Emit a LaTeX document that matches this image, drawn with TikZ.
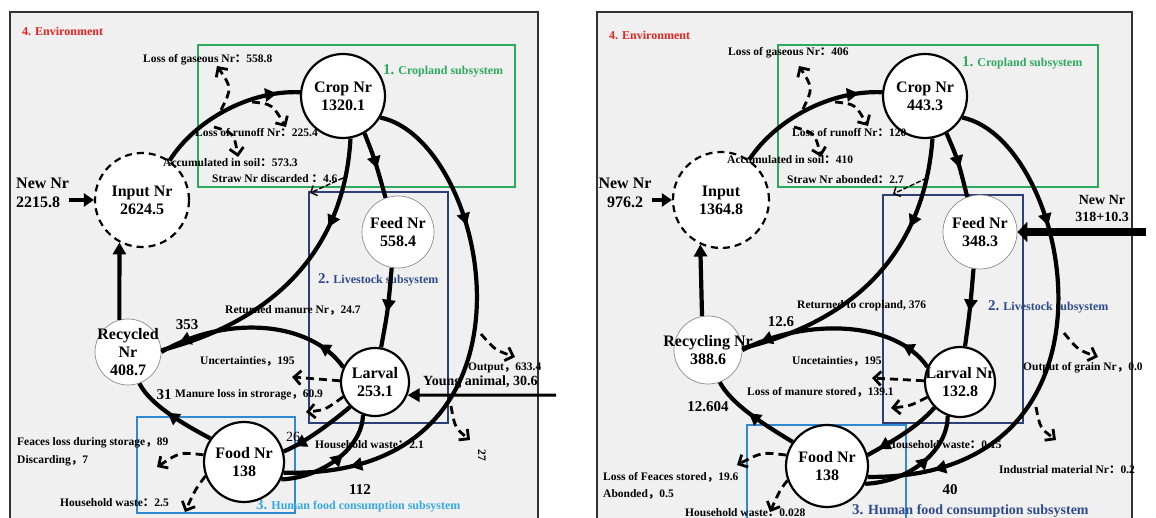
\documentclass[tikz,border=0pt]{standalone}
\usepackage{fontspec}
\setmainfont{Liberation Serif}
\newfontfamily\cjk{Noto Sans CJK SC}
\usetikzlibrary{arrows.meta,decorations.markings}

\definecolor{panelgray}{HTML}{F0F0F0}
\definecolor{envred}{HTML}{E8231E}
\definecolor{cropgreen}{HTML}{2DAA5C}
\definecolor{stocknavy}{HTML}{2B3F78}
\definecolor{stocktext}{HTML}{2E4A8E}
\definecolor{foodblue}{HTML}{2E8BD2}
\definecolor{foodtext}{HTML}{35A8E8}

% 全角の句読点
\newcommand{\fc}{{\cjk ：}}
\newcommand{\fm}{{\cjk ，}}
\newcommand{\zw}[1]{\makebox[0pt]{#1}}
\newcommand{\bignum}[1]{{\fontsize{15}{15}\selectfont #1}}

\begin{document}
\begin{tikzpicture}[x=1pt, y=-1pt,
    pool/.style={circle, draw, line width=2.2pt, fill=white, inner sep=0pt, align=center,
        font=\fontsize{16}{18}\selectfont\bfseries},
    thinpool/.style={pool, draw=black!45, line width=0.7pt},
    inpool/.style={pool, dash pattern=on 7pt off 5pt},
    newnr/.style={inner sep=0pt, align=center, font=\fontsize{16}{19}\selectfont\bfseries},
    flow/.style={line width=4.2pt},
    midtip/.style={postaction={decorate, decoration={markings,
        mark=at position #1 with {\arrow{Triangle[length=12pt,width=13pt]}}}}},
    loss/.style={line width=2.8pt, dash pattern=on 8pt off 5pt, -{Straight Barb[length=7pt,width=14pt]}},
    straw/.style={line width=1.4pt, dash pattern=on 5pt off 2pt, -{Straight Barb[length=5pt,width=11pt]}},
    lab/.style={anchor=west, inner sep=0pt, font=\fontsize{11.5}{13}\selectfont\bfseries},
    num/.style={inner sep=0pt, font=\fontsize{15}{16}\selectfont\bfseries},
    sub/.style={anchor=west, inner sep=0pt, font=\fontsize{12}{13}\selectfont\bfseries},
    boxline/.style={line width=1.8pt},
    panel/.style={fill=panelgray, draw=black!80, line width=2pt}
]
\useasboundingbox[fill=white] (0,0) rectangle (1156,518);

% ===================== 左側のパネル =====================
% --- 枠とサブシステム ---
\draw[panel] (10,12) rectangle (538,540);
\node[sub, text=envred] (envA) at (22,31) {4. Environment};
\draw[boxline, cropgreen] (198,45) rectangle (515,187);
\node[sub, text=cropgreen] (cropsubA) at (383,71) {\bignum{1.} Cropland subsystem};
\draw[boxline, stocknavy] (309,192) rectangle (448,423);
\node[sub, text=stocktext] (stocksubA) at (318,280) {\bignum{2.} Livestock subsystem};
\draw[boxline, foodblue] (137,417) rectangle (295,513);
\node[sub, text=foodtext] (foodsubA) at (256,506) {\bignum{3.} Human food consumption subsystem};

% --- プール ---
\node[inpool, minimum size=94pt] (inputA) at (142,200) {Input Nr\\2624.5};
\node[pool, minimum size=84pt] (cropA) at (343,96) {Crop Nr\\1320.1};
\node[thinpool, minimum size=72pt] (feedA) at (398,232) {Feed Nr\\558.4};
\node[pool, minimum size=68pt] (larvalA) at (375,382) {Larval\\253.1};
\node[thinpool, minimum size=66pt] (recycA) at (128,352) {\zw{Recycled}\\\zw{Nr}\\\zw{408.7}};
\node[pool, minimum size=80pt] (foodA) at (244,462) {Food Nr\\138};
\node[newnr, align=left, anchor=west] (newA) at (16,193) {New Nr\\2215.8};

% --- 流れ ---
\draw[flow, -{Triangle[length=10pt,width=13pt]}] (newA.east |- inputA.west) -- (inputA.west);
\draw[flow, midtip=0.85] (inputA.55) .. controls (195,120) and (250,90) .. (cropA.175);
\draw[flow, midtip=0.3] (cropA.280) .. controls (345,240) and (285,318) .. (recycA.3);
\draw[flow, midtip=0.55] (cropA.300) .. controls (375,160) .. (feedA.110);
\draw[flow, midtip=0.55] (feedA.260) .. controls (388,310) .. (larvalA.80);
\draw[flow, midtip=0.28, midtip=0.87] (cropA.330) .. controls (490,140) and (560,480) .. (foodA.345);
\draw[flow, midtip=0.17, midtip=0.9] (larvalA.155) .. controls (310,320) and (225,315) .. (recycA.0);
\draw[flow, midtip=0.85] (larvalA.225) .. controls (325,428) and (300,445) .. (foodA.15);
\draw[flow, midtip=0.6] (foodA.335) .. controls (320,478) and (362,450) .. (larvalA.250);
\draw[flow, midtip=0.55] (foodA.145) .. controls (185,425) and (150,405) .. (recycA.290);
\draw[flow, -{Triangle[length=12pt,width=13pt]}] (recycA.105) -- (inputA.242);
\coordinate (youngA) at (556,395);
\draw[flow, line width=3pt, -{Triangle[length=12pt,width=13pt]}] (youngA) -- (larvalA.338);

% --- 損失 (破線) ---
\coordinate (gasA) at (221,110);
\coordinate (gasAend) at (217,66);
\draw[loss] (gasA) .. controls (232,88) .. (gasAend);
\coordinate (runA) at (252,102);
\coordinate (runAend) at (286,127);
\draw[loss] (runA) .. controls (272,104) .. (runAend);
\coordinate (soilA) at (214,127);
\coordinate (soilAend) at (238,157);
\draw[loss] (soilA) .. controls (234,133) .. (soilAend);
\coordinate (strawA) at (343,178);
\coordinate (strawAend) at (310,193);
\draw[straw] (strawA) -- (strawAend);
\coordinate (outA) at (481,334);
\coordinate (outAend) at (515,357);
\draw[loss] (outA) .. controls (495,350) .. (outAend);
\coordinate (indA) at (451,406);
\coordinate (indAend) at (470,440);
\draw[loss] (indA) .. controls (455,428) .. (indAend);
\coordinate (uncA) at (292,377);
\draw[loss] (larvalA.178) -- (uncA);
\coordinate (storA) at (306,412);
\draw[loss] (larvalA.205) .. controls (325,410) .. (storA);
\coordinate (fecA) at (157,467);
\draw[loss] (foodA.170) .. controls (180,452) .. (fecA);
\coordinate (wasteA) at (185,512);
\draw[loss] (foodA.200) .. controls (195,490) .. (wasteA);

% --- ラベル ---
\node[lab] (gasAl) at (143,60) {Loss of gaseous Nr\fc 558.8};
\node[lab] (runAl) at (195,133) {Loss of runoff Nr\fc 225.4};
\node[lab] (soilAl) at (163,163) {Accumulated in soil\fc 573.3};
\node[lab] (strawAl) at (212,179) {Straw Nr discarded \fc 4.6};
\node[lab] (retAl) at (225,310) {Returned manure Nr\fm 24.7};
\node[lab] (uncAl) at (200,361) {Uncertainties\fm 195};
\node[lab] (storAl) at (175,395) {Manure loss in strorage\fm 60.9};
\node[lab] (hwLAl) at (315,445) {Household waste\fc 2.1};
\node[lab] (outAl) at (468,368) {Output\fm 633.4};
\node[lab, font=\fontsize{14}{15}\selectfont\bfseries] (youngAl) at (423,382) {Young animal, 30.6};
\node[lab] (fecAl) at (17,443) {Feaces loss during storage\fm 89};
\node[lab] (discAl) at (17,461) {Discarding\fm 7};
\node[lab] (wasteAl) at (60,503) {Household waste\fc 2.5};
\node[num] (n353) at (187,325) {353};
\node[num] (n31) at (164,395) {31};
\node[num, font=\fontsize{14}{15}\selectfont] (n26) at (293,437) {26};
\node[num] (n112) at (360,490) {112};
\node[lab, anchor=center, rotate=-90] (n27) at (482,455) {27};

% ===================== 右側のパネル =====================
% --- 枠とサブシステム ---
\draw[panel] (597,12) rectangle (1132,540);
\node[sub, text=envred] (envB) at (609,35) {4. Environment};
\draw[boxline, cropgreen] (778,45) rectangle (1098,187);
\node[sub, text=cropgreen] (cropsubB) at (962,63) {\bignum{1.} Cropland subsystem};
\draw[boxline, stocknavy] (883,195) rectangle (1023,423);
\node[sub, text=stocktext] (stocksubB) at (988,307) {\bignum{2.} Livestock subsystem};
\draw[boxline, foodblue] (747,425) rectangle (906,540);
\node[sub, text=stocktext, font=\fontsize{14}{15}\selectfont\bfseries] (foodsubB) at (852,511) {\bignum{3.} Human food consumption subsystem};

% --- プール ---
\node[inpool, minimum size=96pt] (inputB) at (721,200) {Input\\1364.8};
\node[pool, minimum size=84pt] (cropB) at (925,96) {Crop Nr\\443.3};
\node[thinpool, minimum size=74pt] (feedB) at (980,232) {Feed Nr\\348.3};
\node[pool, minimum size=70pt] (larvalB) at (960,382) {\zw{Larval Nr}\\\zw{132.8}};
\node[thinpool, minimum size=68pt] (recycB) at (708,350) {\zw{Recycling Nr}\\\zw{388.6}};
\node[pool, minimum size=82pt] (foodB) at (827,466) {Food Nr\\138};
\node[newnr] (newB) at (625,193) {New Nr\\976.2};
\node[newnr, font=\fontsize{14}{17}\selectfont\bfseries] (newfeedB) at (1102,209) {New Nr\\318+10.3};

% --- 流れ ---
\draw[flow, -{Triangle[length=10pt,width=13pt]}] (newB.east |- inputB.west) -- (inputB.west);
\coordinate (newfeedBs) at (1146,232);
\draw[line width=8pt, -{Triangle[length=10pt,width=20pt]}] (newfeedBs) -- (feedB.east);
\draw[flow, midtip=0.85] (inputB.55) .. controls (775,120) and (830,90) .. (cropB.175);
\draw[flow, midtip=0.3] (cropB.280) .. controls (925,240) and (868,318) .. (recycB.3);
\draw[flow, midtip=0.55] (cropB.300) .. controls (958,160) .. (feedB.110);
\draw[flow, midtip=0.55] (feedB.260) .. controls (970,310) .. (larvalB.82);
\draw[flow, midtip=0.28, midtip=0.87] (cropB.330) .. controls (1071,140) and (1141,480) .. (foodB.345);
\draw[flow, midtip=0.17, midtip=0.9] (larvalB.155) .. controls (895,320) and (805,318) .. (recycB.0);
\draw[flow, midtip=0.85] (larvalB.225) .. controls (915,430) and (885,445) .. (foodB.15);
\draw[flow, midtip=0.6] (foodB.335) .. controls (910,482) and (948,450) .. (larvalB.250);
\draw[flow, midtip=0.55] (foodB.145) .. controls (765,425) and (732,405) .. (recycB.290);
\draw[flow, -{Triangle[length=12pt,width=13pt]}] (recycB.100) -- (inputB.245);

% --- 損失 (破線) ---
\coordinate (gasB) at (803,109);
\coordinate (gasBend) at (799,66);
\draw[loss] (gasB) .. controls (813,88) .. (gasBend);
\coordinate (runB) at (835,102);
\coordinate (runBend) at (868,126);
\draw[loss] (runB) .. controls (855,104) .. (runBend);
\coordinate (soilB) at (794,127);
\coordinate (soilBend) at (821,157);
\draw[loss] (soilB) .. controls (815,133) .. (soilBend);
\coordinate (strawB) at (927,178);
\coordinate (strawBend) at (893,194);
\draw[straw] (strawB) -- (strawBend);
\coordinate (outB) at (1064,333);
\coordinate (outBend) at (1098,357);
\draw[loss] (outB) .. controls (1078,350) .. (outBend);
\coordinate (indB) at (1036,407);
\coordinate (indBend) at (1056,440);
\draw[loss] (indB) .. controls (1040,428) .. (indBend);
\coordinate (uncB) at (872,378);
\draw[loss] (larvalB.178) -- (uncB);
\coordinate (storB) at (891,408);
\draw[loss] (larvalB.205) .. controls (910,406) .. (storB);
\coordinate (fecB) at (737,465);
\draw[loss] (foodB.165) .. controls (762,452) .. (fecB);
\coordinate (wasteB) at (770,512);
\draw[loss] (foodB.200) .. controls (780,490) .. (wasteB);

% --- ラベル ---
\node[lab] (gasBl) at (728,53) {Loss of gaseous Nr\fc 406};
\node[lab] (runBl) at (792,133) {Loss of runoff Nr\fc 120};
\node[lab] (soilBl) at (727,160) {Accumulated in soil\fc 410};
\node[lab] (strawBl) at (787,180) {Straw Nr abonded\fc 2.7};
\node[lab] (retBl) at (797,306) {Returned to cropland, 376};
\node[lab] (uncBl) at (792,361) {Uncetainties\fm 195};
\node[lab] (storBl) at (747,392) {Loss of manure stored\fm 139.1};
\node[lab] (hwLBl) at (887,445) {Household waste\fc 0.15};
\node[lab] (outBl) at (1023,368) {Output of grain Nr\fm 0.0};
\node[lab] (indBl) at (999,470) {Industrial material Nr\fc 0.2};
\node[lab] (fecBl) at (603,477) {Loss of Feaces stored\fm 19.6};
\node[lab] (abBl) at (603,494) {Abonded\fm 0.5};
\node[lab] (wasteBl) at (685,513) {Household waste\fc 0.028};
\node[num] (n126) at (781,322) {12.6};
\node[num] (n12604) at (708,407) {12.604};
\node[num] (n40) at (950,490) {40};

\end{tikzpicture}
\end{document}
